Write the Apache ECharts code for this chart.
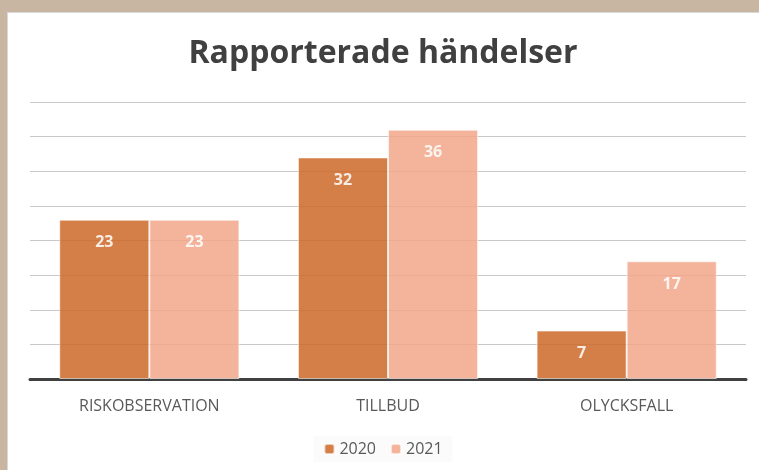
<!DOCTYPE html>
<html><head><meta charset="utf-8">
<script src="https://cdn.jsdelivr.net/npm/echarts@6/dist/echarts.min.js"></script>
<style>
html,body{margin:0;padding:0;background:#c8b6a3;width:759px;height:470px;overflow:hidden;}
#c{position:absolute;left:7px;top:12px;width:752px;height:458px;background:#fff;box-shadow:inset 1px 1px 0 #d9d9d9;}
</style></head>
<body><div id="c"></div>
<script>
const title = 'Rapporterade händelser';
const categories = ['RISKOBSERVATION', 'TILLBUD', 'OLYCKSFALL'];
const seriesNames = ['2020', '2021'];
const values2020 = [23, 32, 7];
const values2021 = [23, 36, 17];

const chart = echarts.init(document.getElementById('c'), null, {renderer: 'canvas'});
const font = '"Open Sans", "Liberation Sans", sans-serif';
const colors = ['#ce6828', '#f1a789'];
function mk(name, data, color) {
  return {
    name: name, type: 'bar', data: data, barGap: '0%', barCategoryGap: '24.5%',
    itemStyle: {color: color, opacity: 0.85, borderColor: 'rgba(255,255,255,0.7)', borderWidth: 1},
    label: {show: true, position: 'insideTop', distance: 15, color: '#fff', fontWeight: 'bold', fontSize: 16, fontFamily: font},
    emphasis: {disabled: true}
  };
}
chart.setOption({
  animation: false,
  title: {text: title, left: 'center', top: 21, textStyle: {fontFamily: font, fontSize: 32, fontWeight: 'bold', color: '#404040'}},
  legend: {bottom: 8, left: 'center', itemWidth: 10, itemHeight: 10, itemGap: 14, backgroundColor: '#fbfbfb', padding: [5, 10],
    textStyle: {fontFamily: font, fontSize: 16, color: '#595959'}, data: seriesNames},
  grid: {left: 23, right: 13, top: 90, bottom: 91},
  xAxis: {type: 'category', data: categories,
    axisLine: {lineStyle: {color: '#404040', width: 3}}, axisTick: {show: false},
    axisLabel: {fontFamily: font, fontSize: 16, color: '#595959', margin: 19}},
  yAxis: {type: 'value', min: 0, max: 40, interval: 5,
    axisLabel: {show: false}, axisLine: {show: false}, axisTick: {show: false},
    splitLine: {lineStyle: {color: '#c8c8c8', width: 1}}},
  series: [mk(seriesNames[0], values2020, colors[0]), mk(seriesNames[1], values2021, colors[1])]
});
</script></body></html>
